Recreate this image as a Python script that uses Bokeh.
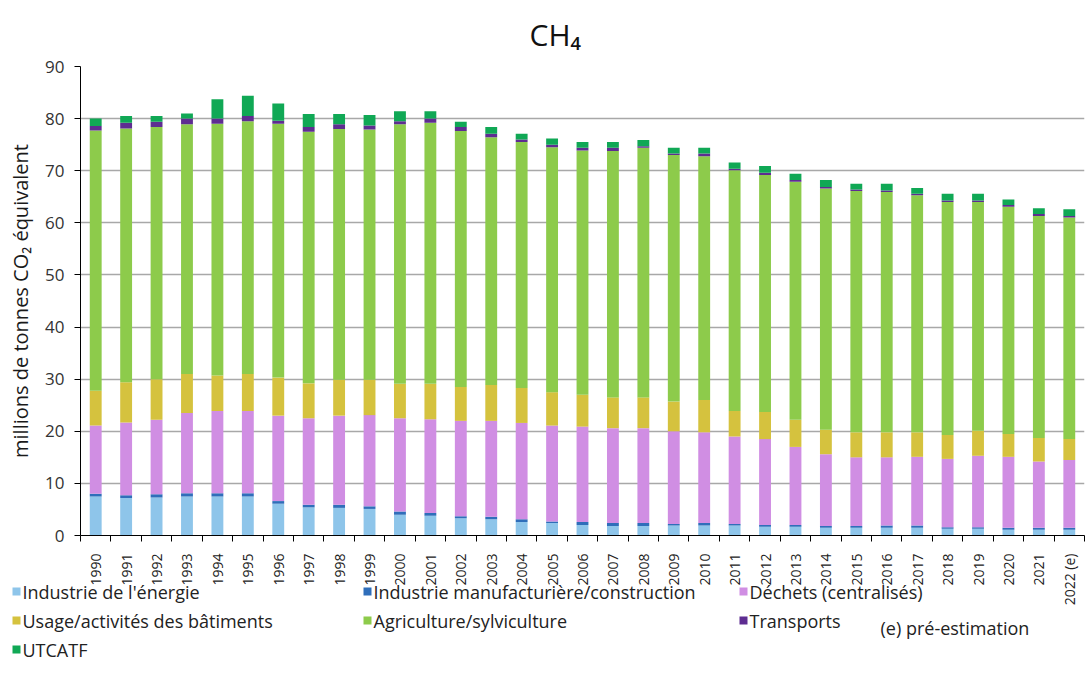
from bokeh.plotting import figure
from bokeh.models import ColumnDataSource, FixedTicker, Range1d
from bokeh.layouts import column
from bokeh.core.properties import value
from bokeh.embed import file_html
from bokeh.resources import INLINE
import math

years = ["1990", "1991", "1992", "1993", "1994", "1995", "1996", "1997", "1998", "1999",
         "2000", "2001", "2002", "2003", "2004", "2005", "2006", "2007", "2008", "2009",
         "2010", "2011", "2012", "2013", "2014", "2015", "2016", "2017", "2018", "2019",
         "2020", "2021", "2022 (e)"]

energie = [7.5, 7.2, 7.3, 7.5, 7.5, 7.5, 6.1, 5.4, 5.3, 5.1, 4.0, 3.8, 3.3, 3.1, 2.6, 2.4, 2.0,
           1.8, 1.8, 1.9, 1.9, 1.9, 1.7, 1.7, 1.5, 1.5, 1.5, 1.5, 1.3, 1.3, 1.1, 1.1, 1.1]
manuf = [0.5, 0.5, 0.6, 0.6, 0.6, 0.6, 0.5, 0.5, 0.6, 0.5, 0.6, 0.5, 0.4, 0.5, 0.5, 0.3, 0.6,
         0.6, 0.6, 0.3, 0.5, 0.3, 0.3, 0.3, 0.3, 0.3, 0.4, 0.4, 0.3, 0.3, 0.4, 0.4, 0.4]
dechets = [13.1, 14.0, 14.3, 15.4, 15.8, 15.8, 16.4, 16.6, 17.1, 17.5, 17.9, 18.0, 18.3, 18.4,
           18.5, 18.4, 18.3, 18.2, 18.2, 17.8, 17.4, 16.8, 16.5, 15.0, 13.8, 13.2, 13.1, 13.2,
           13.1, 13.7, 13.6, 12.7, 13.0]
usage = [6.7, 7.7, 7.8, 7.5, 6.8, 7.1, 7.3, 6.7, 6.9, 6.8, 6.6, 6.8, 6.5, 6.9, 6.7, 6.4, 6.1,
         5.9, 5.9, 5.7, 6.2, 4.9, 5.2, 5.2, 4.7, 4.8, 4.8, 4.7, 4.6, 4.8, 4.4, 4.5, 4.0]
agri = [49.9, 48.7, 48.4, 47.9, 48.3, 48.5, 48.7, 48.3, 48.1, 48.0, 49.8, 50.1, 49.1, 47.5,
        47.2, 47.0, 46.9, 47.3, 47.9, 47.3, 46.8, 46.2, 45.5, 45.7, 46.3, 46.3, 46.1, 45.5,
        44.7, 43.9, 43.6, 42.6, 42.5]
transports = [0.9, 1.1, 1.0, 1.1, 1.0, 1.0, 0.6, 0.9, 0.9, 0.8, 0.6, 0.8, 0.8, 0.7, 0.5, 0.5,
              0.5, 0.6, 0.3, 0.3, 0.5, 0.3, 0.4, 0.3, 0.3, 0.3, 0.3, 0.3, 0.3, 0.3, 0.3, 0.4, 0.3]
utcatf = [1.4, 1.3, 1.1, 1.0, 3.7, 3.9, 3.3, 2.5, 2.0, 2.0, 1.9, 1.4, 1.0, 1.3, 1.1, 1.2, 1.1,
          1.1, 1.2, 1.1, 1.1, 1.2, 1.3, 1.2, 1.3, 1.1, 1.3, 1.1, 1.3, 1.3, 1.1, 1.1, 1.3]

series = ["energie", "manuf", "dechets", "usage", "agri", "transports", "utcatf"]
labels = ["Industrie de l'énergie", "Industrie manufacturière/construction",
          "Déchets (centralisés)", "Usage/activités des bâtiments",
          "Agriculture/sylviculture", "Transports", "UTCATF"]
colors = ["#8EC5EA", "#2F6EBA", "#D08EE3", "#D5C23E", "#8DCB4B", "#5E2D91", "#10A855"]
note = "(e) pré-estimation"

FONT = "Open Sans"
TXT = "#222222"
W, H = 1086, 680
BL, BR, BT, BB = 80, 2, 65, 145

xs = list(range(len(years)))
src = ColumnDataSource(dict(x=xs, energie=energie, manuf=manuf, dechets=dechets, usage=usage,
                            agri=agri, transports=transports, utcatf=utcatf))

p = figure(width=W, height=H, x_range=(-0.5, len(years) - 0.5), y_range=(0, 90),
           output_backend="svg", toolbar_location=None,
           min_border_left=BL, min_border_right=BR, min_border_top=BT, min_border_bottom=BB)
p.frame_align = False
p.outline_line_color = None
p.background_fill_color = "white"
p.border_fill_color = "white"

p.title.text = "CH₄"
p.title.align = "left"
p.title.offset = 449
p.title.standoff = 23
p.title.text_font = FONT
p.title.text_font_size = "30px"
p.title.text_font_style = "normal"
p.title.text_color = "#111111"

p.vbar_stack(series, x="x", width=0.39, source=src, color=colors, line_color=None)

# y axis
p.yaxis.ticker = FixedTicker(ticks=list(range(0, 91, 10)))
p.yaxis.axis_line_color = "black"
p.yaxis.major_tick_line_color = "black"
p.yaxis.major_tick_out = 6
p.yaxis.major_tick_in = 0
p.yaxis.minor_tick_line_color = None
p.yaxis.major_label_standoff = 10
p.yaxis.major_label_text_font = FONT
p.yaxis.major_label_text_font_size = "17px"
p.yaxis.major_label_text_color = "#333333"
p.yaxis.axis_label = "millions de tonnes CO₂ équivalent"
p.yaxis.axis_label_text_font = FONT
p.yaxis.axis_label_text_font_size = "20px"
p.yaxis.axis_label_text_font_style = "normal"
p.yaxis.axis_label_text_color = "#1a1a1a"
p.yaxis.axis_label_standoff = 8

p.ygrid.grid_line_color = "#A8A8A8"
p.ygrid.grid_line_width = 1.5
p.xgrid.grid_line_color = None

# x axis
p.xaxis.ticker = FixedTicker(ticks=xs, minor_ticks=[i - 0.5 for i in range(len(years) + 1)])
p.xaxis.major_label_overrides = {i: y for i, y in enumerate(years)}
p.xaxis.major_tick_line_color = None
p.xaxis.major_tick_out = 0
p.xaxis.major_tick_in = 0
p.xaxis.minor_tick_line_color = "black"
p.xaxis.minor_tick_out = 6
p.xaxis.minor_tick_in = 0
p.xaxis.axis_line_color = "black"
p.xaxis.major_label_orientation = math.pi / 2
p.xaxis.major_label_standoff = 12
p.xaxis.major_label_text_font = FONT
p.xaxis.major_label_text_font_size = "14px"
p.xaxis.major_label_text_color = TXT

# legend: a transparent strip laid over the bottom of the chart (page pixel coordinates)
LEG_H = 100
leg_top = H - (LEG_H + 1)
leg = figure(width=W, height=LEG_H,
             x_range=Range1d(0, W), y_range=Range1d(leg_top + LEG_H, leg_top),
             output_backend="svg", toolbar_location=None, min_border=0,
             x_axis_type=None, y_axis_type=None)
leg.frame_align = False
leg.outline_line_color = None
leg.background_fill_color = None
leg.border_fill_color = None
leg.xgrid.grid_line_color = None
leg.ygrid.grid_line_color = None

col_x = [16, 367, 743]
row_y = [591, 620, 649]
sx, sy, tx = [], [], []
for i in range(len(labels)):
    r, c = divmod(i, 3)
    sx.append(col_x[c])
    sy.append(row_y[r])
    tx.append(col_x[c] + 6)
leg.scatter(x=sx, y=sy, marker="square", size=8, color=colors, line_color=None)
leg.text(x=tx, y=sy, text=labels, text_font=value(FONT), text_font_size="18px",
         text_baseline="middle", text_align="left", text_color=TXT)
leg.text(x=[880], y=[627], text=[note], text_font=value(FONT), text_font_size="18px",
         text_baseline="middle", text_align="left", text_color=TXT)
leg.margin = (-(LEG_H + 1), 0, 0, 0)

layout = column(p, leg, spacing=0)
open("out.html", "w").write(file_html(layout, INLINE))
